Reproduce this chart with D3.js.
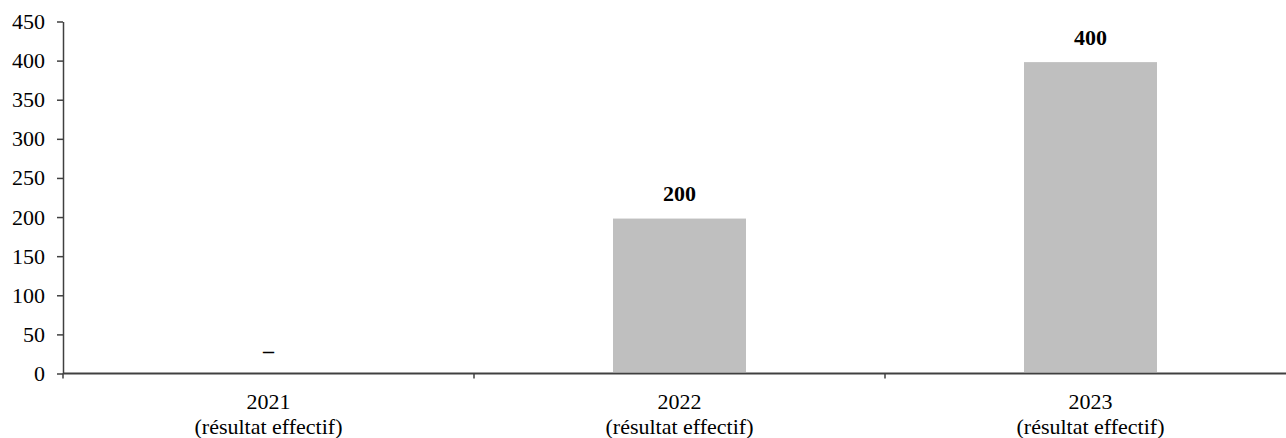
<!DOCTYPE html>
<html>
<head>
<meta charset="utf-8">
<script src="https://cdn.jsdelivr.net/npm/d3@7"></script>
<style>
  html, body { margin: 0; padding: 0; background: #fff; }
  svg { display: block; }
  svg text { font-family: "Liberation Serif", "DejaVu Serif", serif; fill: #000; }
</style>
</head>
<body>
<svg id="chart" width="1286" height="438"></svg>
<script>
// Chart data
const categories = ["2021", "2022", "2023"];
const subLabel = "(résultat effectif)";
const values = [0, 200, 400];
const valueLabels = ["–", "200", "400"];
const yTicks = [0, 50, 100, 150, 200, 250, 300, 350, 400, 450];

const W = 1286, H = 438;
const plotLeft = 63, plotTop = 21.5, plotBottom = 373.5;
const bandW = 411;
const fontSize = 22;

const svg = d3.select("#chart");

const x = d3.scaleBand()
  .domain(categories)
  .range([plotLeft, plotLeft + bandW * categories.length])
  .paddingInner(0).paddingOuter(0);

const y = d3.scaleLinear().domain([0, 450]).range([plotBottom, plotTop]);

const axisColor = "#404040";

// Bars (white outline leaves a small gap above the axis)
const barW = 136;
svg.append("g").selectAll("rect")
  .data(values.map((v, i) => ({ c: categories[i], v })).filter(d => d.v > 0))
  .join("rect")
  .attr("x", d => x(d.c) + x.bandwidth() / 2 - barW / 2)
  .attr("y", d => y(d.v))
  .attr("width", barW)
  .attr("height", d => plotBottom - y(d.v))
  .attr("fill", "#bfbfbf")
  .attr("stroke", "#fff")
  .attr("stroke-width", 3);

// Value labels
svg.append("g").selectAll("text")
  .data(values.map((v, i) => ({ c: categories[i], v, t: valueLabels[i] })))
  .join("text")
  .attr("x", d => x(d.c) + x.bandwidth() / 2)
  .attr("y", d => y(d.v) - 16)
  .attr("text-anchor", "middle")
  .attr("font-size", fontSize)
  .attr("font-weight", "bold")
  .text(d => d.t);

// Y axis
const yAxis = svg.append("g")
  .attr("transform", `translate(${plotLeft},0)`)
  .call(d3.axisLeft(y).tickValues(yTicks).tickSize(6).tickSizeOuter(0).tickPadding(12));
yAxis.attr("font-family", null).attr("font-size", null);
yAxis.select(".domain").attr("stroke", axisColor).attr("stroke-width", 1.5);
yAxis.selectAll(".tick line").attr("stroke", axisColor).attr("stroke-width", 1.5);
yAxis.selectAll(".tick text")
  .attr("font-size", fontSize).attr("fill", "#000");

// X axis line and band boundary ticks
svg.append("line")
  .attr("x1", plotLeft).attr("x2", W)
  .attr("y1", plotBottom).attr("y2", plotBottom)
  .attr("stroke", axisColor).attr("stroke-width", 2);

const boundaries = categories.map(c => x(c)).concat([x.range()[1]]);
svg.append("g").selectAll("line")
  .data(boundaries)
  .join("line")
  .attr("x1", d => d).attr("x2", d => d)
  .attr("y1", plotBottom).attr("y2", plotBottom + 5)
  .attr("stroke", axisColor).attr("stroke-width", 1.5);

// Category labels (two lines)
const lab = svg.append("g").selectAll("text")
  .data(categories)
  .join("text")
  .attr("text-anchor", "middle")
  .attr("font-size", fontSize);
lab.append("tspan")
  .attr("x", d => x(d) + x.bandwidth() / 2)
  .attr("y", 409)
  .text(d => d);
lab.append("tspan")
  .attr("x", d => x(d) + x.bandwidth() / 2)
  .attr("y", 434)
  .text(subLabel);
</script>
</body>
</html>
